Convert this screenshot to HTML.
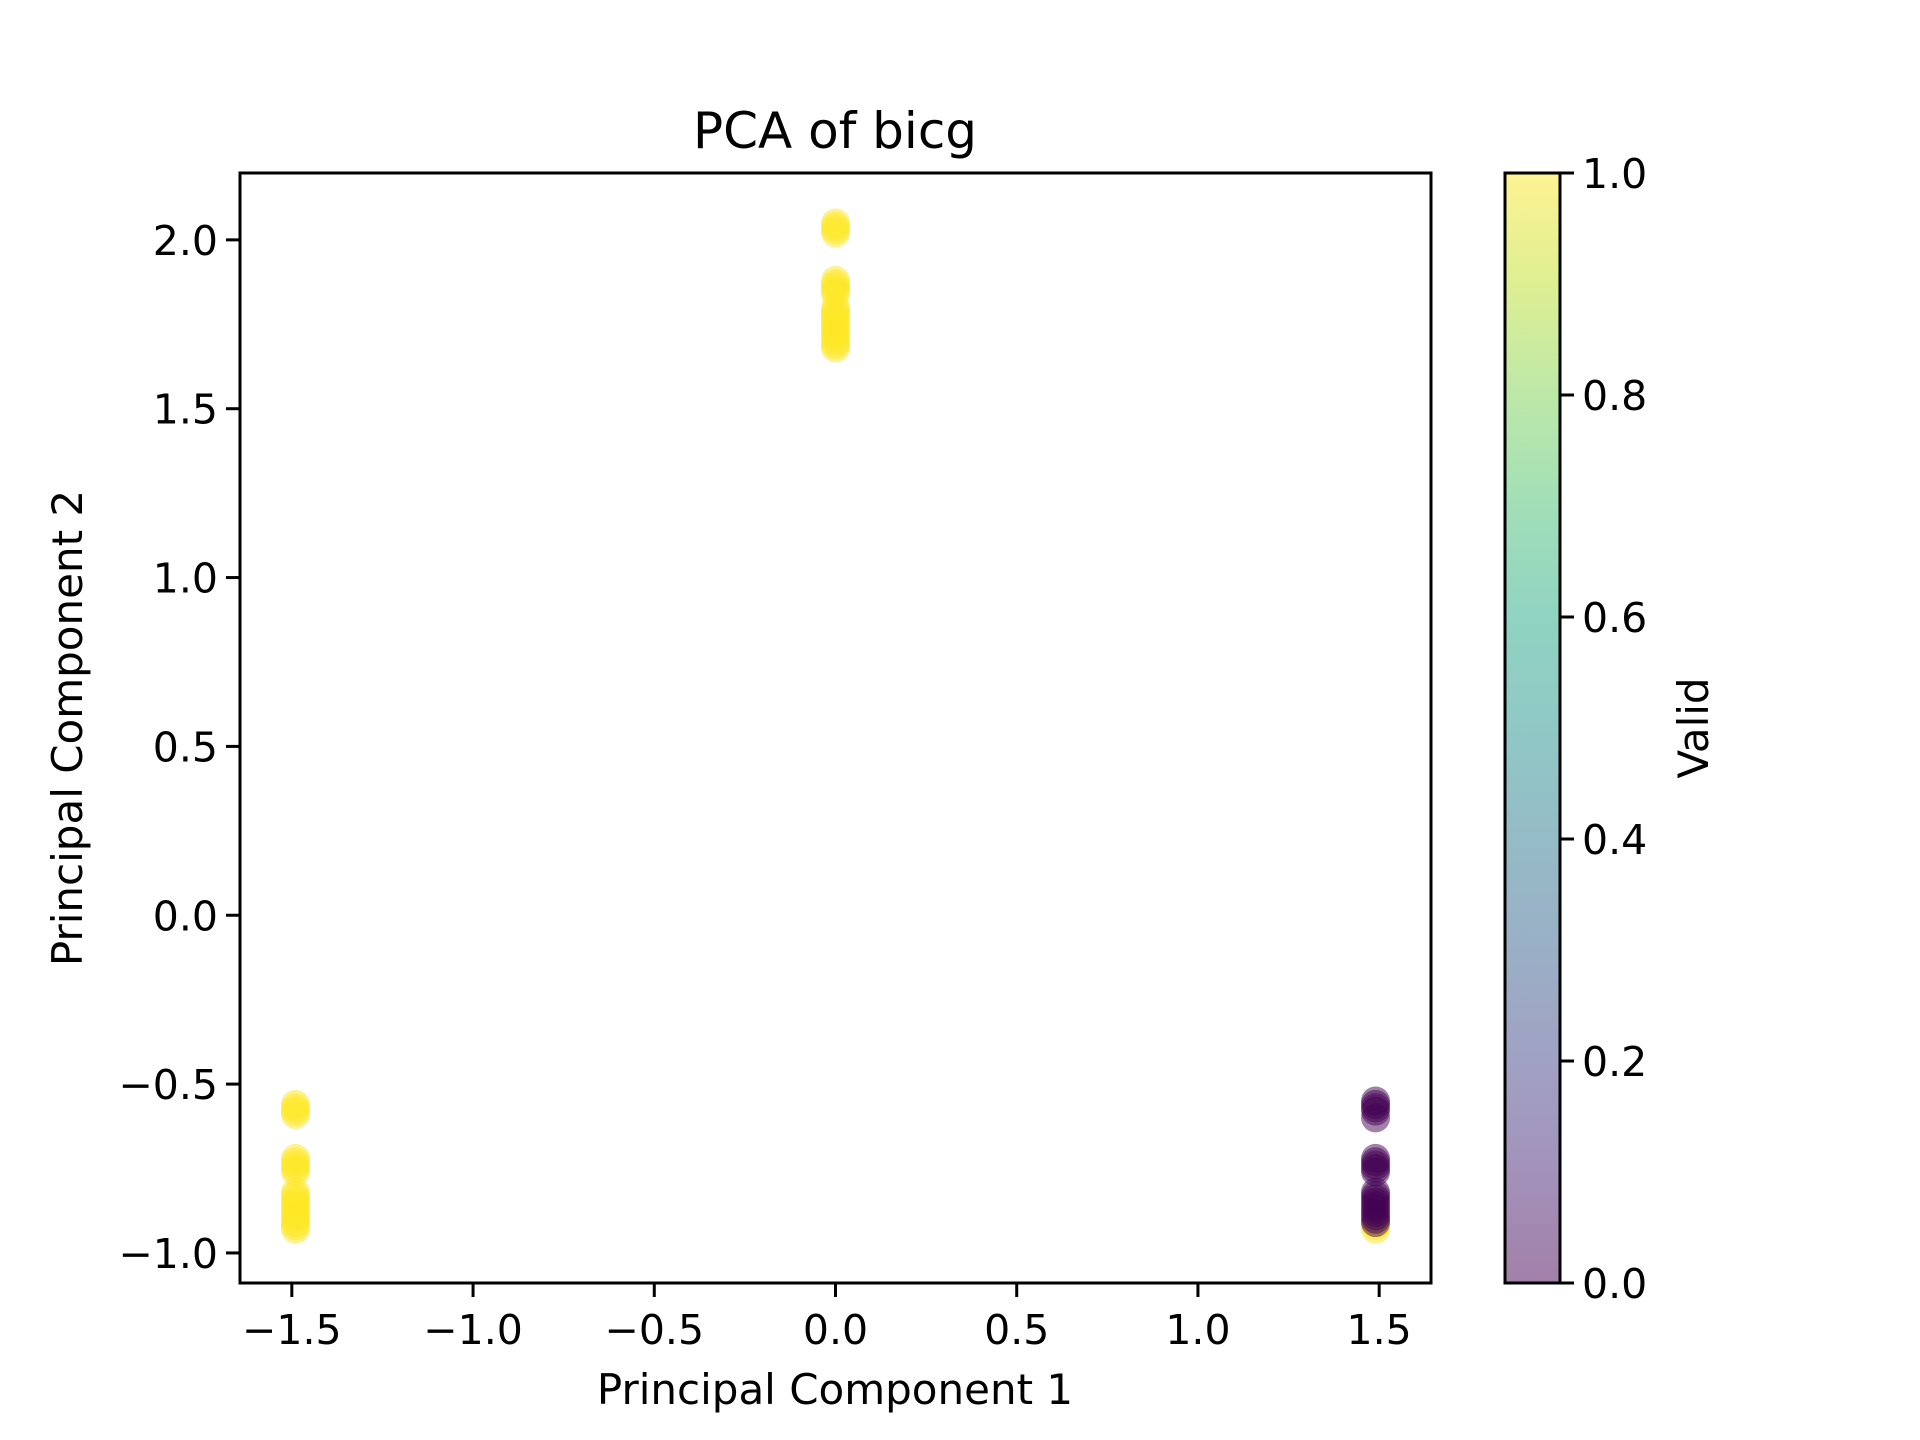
<!DOCTYPE html>
<html><head><meta charset="utf-8"><style>
html,body{margin:0;padding:0;background:#fff;}
svg{display:block;font-family:"DejaVu Sans","Liberation Sans",sans-serif;}
</style></head><body>
<svg id="chart" width="1920" height="1440" viewBox="0 0 1920 1440" xmlns="http://www.w3.org/2000/svg">
<defs>
<linearGradient id="viridis" x1="0" y1="1" x2="0" y2="0">
<stop offset="0" stop-color="#440154"/><stop offset="0.1" stop-color="#482475"/><stop offset="0.2" stop-color="#414487"/><stop offset="0.3" stop-color="#355f8d"/><stop offset="0.4" stop-color="#2a788e"/><stop offset="0.5" stop-color="#21918c"/><stop offset="0.6" stop-color="#22a884"/><stop offset="0.7" stop-color="#44bf70"/><stop offset="0.8" stop-color="#7ad151"/><stop offset="0.9" stop-color="#bddf26"/><stop offset="1" stop-color="#fde725"/>
</linearGradient>
<clipPath id="plotclip"><rect x="240" y="173" width="1191" height="1110"/></clipPath>
</defs>
<text x="835" y="148" font-size="50" text-anchor="middle">PCA of bicg</text>
<g id="points" clip-path="url(#plotclip)"></g>
<rect x="240" y="173" width="1191" height="1110" fill="none" stroke="#000" stroke-width="3"/>
<g id="xticks"></g>
<g id="yticks"></g>
<text x="835" y="1404" font-size="42" text-anchor="middle">Principal Component 1</text>
<text transform="translate(82,728) rotate(-90)" font-size="42" text-anchor="middle">Principal Component 2</text>
<g>
<rect x="1505" y="173" width="55" height="1110" fill="url(#viridis)" opacity="0.5"/>
<rect x="1505" y="173" width="55" height="1110" fill="none" stroke="#000" stroke-width="3"/>
<g id="cticks"></g>
<text transform="translate(1708,728) rotate(-90)" font-size="42" text-anchor="middle">Valid</text>
</g>
</svg>
<script>
const xTicks = [-1.5, -1.0, -0.5, 0.0, 0.5, 1.0, 1.5];
const yTicks = [-1.0, -0.5, 0.0, 0.5, 1.0, 1.5, 2.0];
const cTicks = [0.0, 0.2, 0.4, 0.6, 0.8, 1.0];
const pointX = [
 0,0,0,0,0,0,0,0,0,0,0,0,0,0,0,0,0,0,0,0,0,0,
 -1.49,-1.49,-1.49,-1.49,-1.49,-1.49,-1.49,-1.49,-1.49,-1.49,-1.49,-1.49,-1.49,-1.49,-1.49,-1.49,-1.49,-1.49,-1.49,-1.49,-1.49,
 1.49,1.49,1.49,
 1.49,1.49,1.49,1.49,1.49,1.49,1.49,1.49,1.49,1.49,1.49,1.49,1.49,1.49,1.49,1.49,1.49,1.49,1.49,1.49];
const pointY = [
 2.05,2.04,2.03,2.02,1.88,1.87,1.86,1.85,1.84,1.80,1.79,1.78,1.77,1.76,1.75,1.74,1.73,1.72,1.71,1.70,1.69,1.68,
 -0.56,-0.57,-0.58,-0.59,-0.72,-0.73,-0.74,-0.75,-0.76,-0.82,-0.83,-0.84,-0.85,-0.86,-0.87,-0.88,-0.89,-0.90,-0.91,-0.92,-0.93,
 -0.91,-0.92,-0.93,
 -0.60,-0.58,-0.57,-0.56,-0.55,-0.76,-0.75,-0.74,-0.73,-0.72,-0.91,-0.90,-0.89,-0.88,-0.87,-0.86,-0.85,-0.84,-0.83,-0.82];
const pointValid = [
 1,1,1,1,1,1,1,1,1,1,1,1,1,1,1,1,1,1,1,1,1,1,
 1,1,1,1,1,1,1,1,1,1,1,1,1,1,1,1,1,1,1,1,1,
 1,1,1,
 0,0,0,0,0,0,0,0,0,0,0,0,0,0,0,0,0,0,0,0];

const NS = "http://www.w3.org/2000/svg";
const X0=240, X1=1431, Y0=173, Y1=1283;
const xMin=-1.643, xMax=1.643, yMin=-1.089, yMax=2.198;
const sx = v => X0 + (v - xMin) / (xMax - xMin) * (X1 - X0);
const sy = v => Y1 - (v - yMin) / (yMax - yMin) * (Y1 - Y0);
const sc = v => Y1 - v * (Y1 - Y0);
function mk(tag, attrs, parent){ const e=document.createElementNS(NS,tag); for(const k in attrs) e.setAttribute(k, attrs[k]); parent.appendChild(e); return e; }
const fmt = v => (v<0?"\u2212":"") + Math.abs(v).toFixed(1);

const pts = document.getElementById("points");
for (let i=0;i<pointX.length;i++){
  const c = mk("circle",{cx:sx(pointX[i]),cy:sy(pointY[i]),r:14.5,fill:pointValid[i]?"#fde725":"#440154","fill-opacity":0.5},pts);
  
  
}
const xg = document.getElementById("xticks");
xTicks.forEach(v=>{
  const x=sx(v);
  mk("line",{x1:x,x2:x,y1:Y1,y2:Y1+14,stroke:"#000","stroke-width":3},xg);
  const t=mk("text",{x:x,y:Y1+61,"font-size":41,"text-anchor":"middle"},xg);
  t.textContent=fmt(v);
  
  
});
const yg = document.getElementById("yticks");
yTicks.forEach(v=>{
  const y=sy(v);
  mk("line",{x1:X0-14,x2:X0,y1:y,y2:y,stroke:"#000","stroke-width":3},yg);
  const t=mk("text",{x:X0-22,y:y+15,"font-size":41,"text-anchor":"end"},yg);
  t.textContent=fmt(v);
  
  
});
const cg = document.getElementById("cticks");
cTicks.forEach(v=>{
  const y=sc(v);
  mk("line",{x1:1560,x2:1574,y1:y,y2:y,stroke:"#000","stroke-width":3},cg);
  const t=mk("text",{x:1582,y:y+15,"font-size":41},cg);
  t.textContent=v.toFixed(1);
  
  
});
</script>
</body></html>
